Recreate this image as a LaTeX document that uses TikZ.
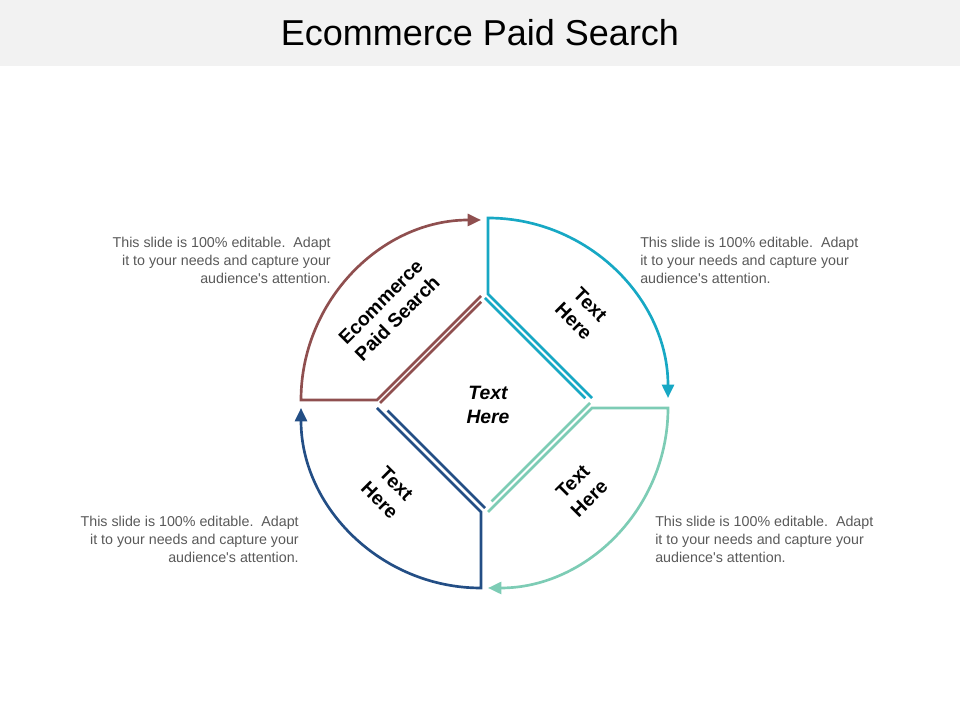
\documentclass[tikz,border=0pt]{standalone}
\usepackage{fontspec}
\setmainfont{Liberation Sans}
\usetikzlibrary{arrows.meta}
\definecolor{titlegray}{HTML}{F2F2F2}
\definecolor{notegray}{HTML}{595959}
\definecolor{brownc}{HTML}{8F4F4F}
\definecolor{cyanc}{HTML}{17A8C4}
\definecolor{tealc}{HTML}{7DCCB5}
\definecolor{navyc}{HTML}{234E85}
\begin{document}
\begin{tikzpicture}[x=0.75pt, y=0.75pt,
    edge/.style={line width=2pt, line join=miter},
    tip/.style={-{Triangle[length=10pt,width=9pt]}},
    sectxt/.style={font=\bfseries\fontsize{14.5}{17.5}\selectfont, align=center},
    note/.style={text=notegray, font=\fontsize{10.7}{13.5}\selectfont, inner sep=0pt}]
    \useasboundingbox (0,0) rectangle (960,720);
    % Title bar
    \fill [titlegray] (0,654) rectangle (960,720);
    \node (title) at (480,687) {\fontsize{27}{32}\selectfont Ecommerce Paid Search};

    % Diamond corners
    \coordinate (dt) at (485,422);
    \coordinate (dr) at (590,317);
    \coordinate (db) at (485,212);
    \coordinate (dl) at (380,317);
    % Sector centres
    \coordinate (cb) at (481,320);
    \coordinate (cc) at (488,322);
    \coordinate (ct) at (488,312);
    \coordinate (cn) at (481,312);

    % Sectors
    \draw [edge, tip, brownc] (cb) ++(0,104) -- ++(-104,-104) -- ++(-76,0)
        arc [start angle=180, end angle=90, radius=180];
    \draw [edge, tip, cyanc] (cc) ++(104,0) -- ++(-104,104) -- ++(0,76)
        arc [start angle=90, end angle=0, radius=180];
    \draw [edge, tip, tealc] (ct) ++(0,-104) -- ++(104,104) -- ++(76,0)
        arc [start angle=0, end angle=-90, radius=180];
    \draw [edge, tip, navyc] (cn) ++(-104,0) -- ++(104,-104) -- ++(0,-76)
        arc [start angle=-90, end angle=-180, radius=180];

    % Inner diamond
    \draw [edge, brownc, shorten >=4pt] (dl) -- (dt);
    \draw [edge, cyanc, shorten >=5pt] (dt) -- (dr);
    \draw [edge, tealc, shorten >=7pt] (dr) -- (db);
    \draw [edge, navyc, shorten >=8pt] (db) -- (dl);

    % Labels
    \node [sectxt, font=\bfseries\itshape\fontsize{14.5}{17.5}\selectfont] (lc) at (488,315) {Text\\Here};
    \node [sectxt, rotate=45] (lb) at (389,410) {Ecommerce\\Paid Search};
    \node [sectxt, rotate=-45] (lcy) at (582,407) {Text\\Here};
    \node [sectxt, rotate=45] (lt) at (581,230) {Text\\Here};
    \node [sectxt, rotate=-45] (ln) at (388,228) {Text\\Here};

    % Notes
    \node [note, anchor=east, align=right] (n1) at (331,460)
        {This slide is 100\% editable.\ \ Adapt\\it to your needs and capture your\\audience\textquotesingle s attention.};
    \node [note, anchor=west, align=left] (n2) at (640,460)
        {This slide is 100\% editable.\ \ Adapt\\it to your needs and capture your\\audience\textquotesingle s attention.};
    \node [note, anchor=east, align=right] (n3) at (299,181)
        {This slide is 100\% editable.\ \ Adapt\\it to your needs and capture your\\audience\textquotesingle s attention.};
    \node [note, anchor=west, align=left] (n4) at (655,181)
        {This slide is 100\% editable.\ \ Adapt\\it to your needs and capture your\\audience\textquotesingle s attention.};
\end{tikzpicture}
\end{document}
